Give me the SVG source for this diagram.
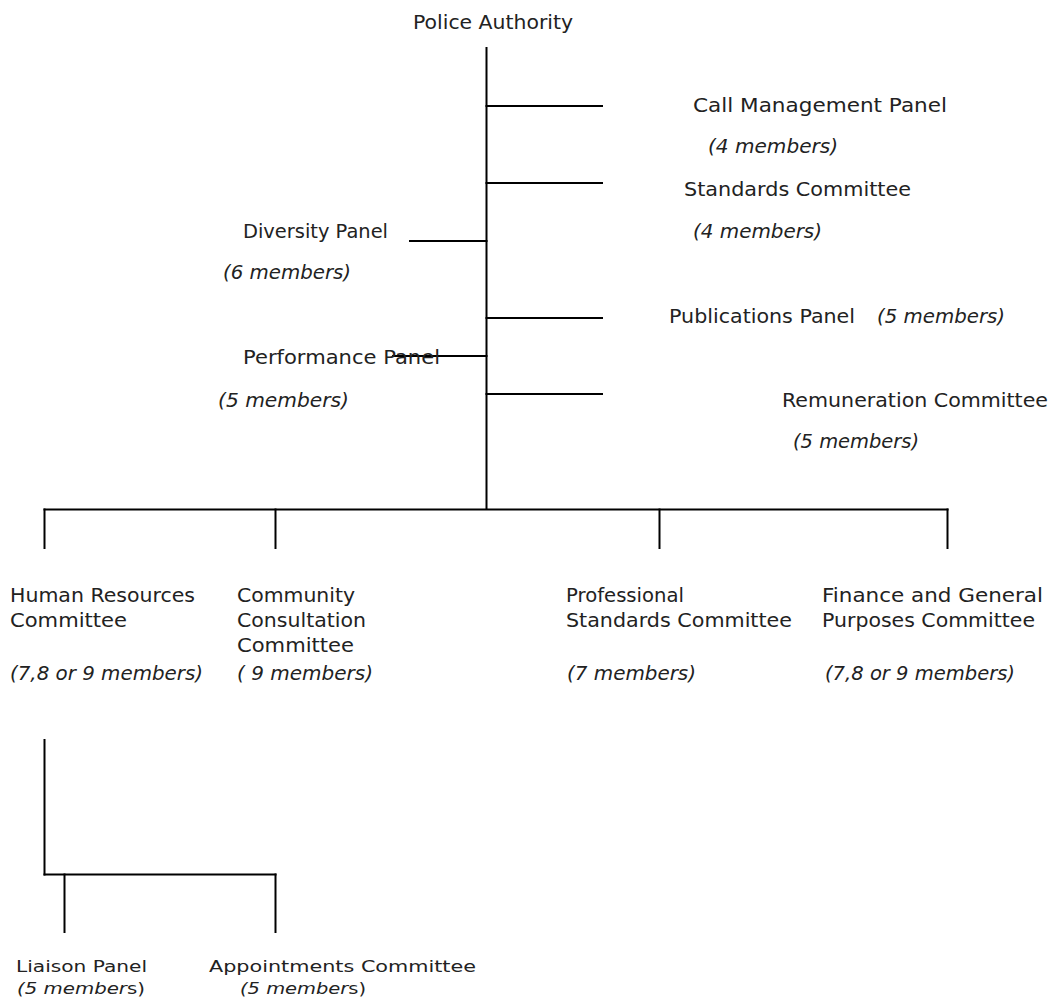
<svg xmlns="http://www.w3.org/2000/svg" width="1054" height="1003" viewBox="0 0 1054 1003">
<style>
text{font-family:"DejaVu Sans","Liberation Sans",sans-serif;font-size:19px;fill:#222}
.i{font-style:italic}
.u{font-style:normal}
.s{font-size:16px}
.c line{stroke:#000;stroke-width:2;stroke-linecap:square}
</style>
<rect width="1054" height="1003" fill="#fff"/>
<g id="connectors" class="c">
<line x1="486.5" y1="48" x2="486.5" y2="509"/>
<line x1="486.5" y1="106" x2="602" y2="106"/>
<line x1="486.5" y1="183" x2="602" y2="183"/>
<line x1="410" y1="241" x2="486.5" y2="241"/>
<line x1="486.5" y1="318" x2="602" y2="318"/>
<line x1="393" y1="356" x2="486.5" y2="356"/>
<line x1="486.5" y1="394" x2="602" y2="394"/>
<line x1="44.5" y1="509.5" x2="947.5" y2="509.5"/>
<line x1="44.5" y1="509.5" x2="44.5" y2="548"/>
<line x1="275.5" y1="509.5" x2="275.5" y2="548"/>
<line x1="659.5" y1="509.5" x2="659.5" y2="548"/>
<line x1="947.5" y1="509.5" x2="947.5" y2="548"/>
<line x1="44.5" y1="740" x2="44.5" y2="874.5"/>
<line x1="44.5" y1="874.5" x2="275.5" y2="874.5"/>
<line x1="64.5" y1="874.5" x2="64.5" y2="932"/>
<line x1="275.5" y1="874.5" x2="275.5" y2="932"/>
</g>
<g id="police-authority"><text x="413" y="29" textLength="160" lengthAdjust="spacingAndGlyphs">Police Authority</text></g>
<g id="call-management-panel">
<text x="693" y="112" textLength="254" lengthAdjust="spacingAndGlyphs">Call Management Panel</text>
<text class="i" x="708" y="153" textLength="130" lengthAdjust="spacingAndGlyphs">(4 members)</text>
</g>
<g id="standards-committee">
<text x="684" y="196" textLength="227" lengthAdjust="spacingAndGlyphs">Standards Committee</text>
<text class="i" x="693" y="238" textLength="129" lengthAdjust="spacingAndGlyphs">(4 members)</text>
</g>
<g id="diversity-panel">
<text x="243" y="238" textLength="145" lengthAdjust="spacingAndGlyphs">Diversity Panel</text>
<text class="i" x="223" y="279" textLength="128" lengthAdjust="spacingAndGlyphs">(6 members)</text>
</g>
<g id="publications-panel">
<text x="669" y="323" textLength="186" lengthAdjust="spacingAndGlyphs">Publications Panel</text>
<text class="i" x="877" y="323" textLength="128" lengthAdjust="spacingAndGlyphs">(5 members)</text>
</g>
<g id="performance-panel">
<text x="243" y="364" textLength="197" lengthAdjust="spacingAndGlyphs">Performance Panel</text>
<text class="i" x="218" y="407" textLength="131" lengthAdjust="spacingAndGlyphs">(5 members)</text>
</g>
<g id="remuneration-committee">
<text x="782" y="407" textLength="266" lengthAdjust="spacingAndGlyphs">Remuneration Committee</text>
<text class="i" x="793" y="448" textLength="126" lengthAdjust="spacingAndGlyphs">(5 members)</text>
</g>
<g id="human-resources-committee">
<text x="10" y="602" textLength="185" lengthAdjust="spacingAndGlyphs">Human Resources</text>
<text x="10" y="627" textLength="117" lengthAdjust="spacingAndGlyphs">Committee</text>
<text class="i" x="10" y="680" textLength="193" lengthAdjust="spacingAndGlyphs">(7,8 or 9 members)</text>
</g>
<g id="community-consultation-committee">
<text x="237" y="602" textLength="118" lengthAdjust="spacingAndGlyphs">Community</text>
<text x="237" y="627" textLength="129" lengthAdjust="spacingAndGlyphs">Consultation</text>
<text x="237" y="652" textLength="117" lengthAdjust="spacingAndGlyphs">Committee</text>
<text class="i" x="237" y="680" textLength="136" lengthAdjust="spacingAndGlyphs">( 9 members)</text>
</g>
<g id="professional-standards-committee">
<text x="566" y="602" textLength="118" lengthAdjust="spacingAndGlyphs">Professional</text>
<text x="566" y="627" textLength="226" lengthAdjust="spacingAndGlyphs">Standards Committee</text>
<text class="i" x="567" y="680" textLength="129" lengthAdjust="spacingAndGlyphs">(7 members)</text>
</g>
<g id="finance-general-purposes-committee">
<text x="822" y="602" textLength="221" lengthAdjust="spacingAndGlyphs">Finance and General</text>
<text x="822" y="627" textLength="213" lengthAdjust="spacingAndGlyphs">Purposes Committee</text>
<text class="i" x="825" y="680" textLength="190" lengthAdjust="spacingAndGlyphs">(7,8 or 9 members)</text>
</g>
<g id="liaison-panel">
<text class="s" x="16" y="972" textLength="131" lengthAdjust="spacingAndGlyphs">Liaison Panel</text>
<text class="i s" x="17" y="994" textLength="128" lengthAdjust="spacingAndGlyphs">(5 member<tspan class="u">s)</tspan></text>
</g>
<g id="appointments-committee">
<text class="s" x="209" y="972" textLength="267" lengthAdjust="spacingAndGlyphs">Appointments Committee</text>
<text class="i s" x="240" y="994" textLength="126" lengthAdjust="spacingAndGlyphs">(5 member<tspan class="u">s)</tspan></text>
</g>
</svg>
